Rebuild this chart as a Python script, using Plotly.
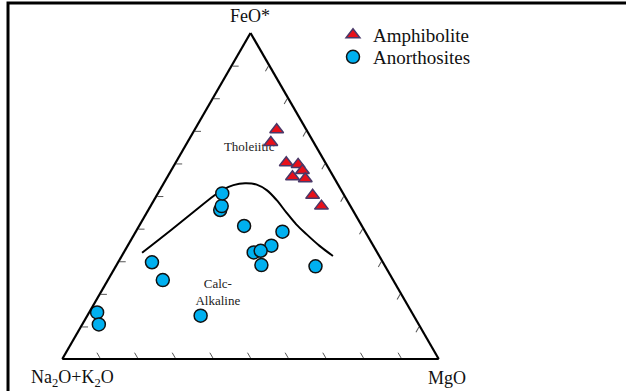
import plotly.graph_objects as go

# AFM ternary diagram: A = Na2O+K2O, F = FeO*, M = MgO (fractions of 1)
amph_feo = [0.703, 0.664, 0.602, 0.597, 0.578, 0.559, 0.553, 0.502, 0.469]
amph_alk = [0.079, 0.114, 0.104, 0.075, 0.073, 0.109, 0.078, 0.084, 0.077]
amph_mgo = [0.218, 0.222, 0.294, 0.328, 0.349, 0.332, 0.369, 0.414, 0.454]

anor_feo = [0.457, 0.469, 0.508, 0.408, 0.391, 0.348, 0.327, 0.332, 0.288,
            0.284, 0.297, 0.242, 0.133, 0.143, 0.106]
anor_alk = [0.352, 0.342, 0.321, 0.313, 0.220, 0.271, 0.328, 0.307, 0.327,
            0.185, 0.614, 0.612, 0.566, 0.836, 0.849]
anor_mgo = [0.191, 0.189, 0.171, 0.279, 0.390, 0.382, 0.345, 0.361, 0.385,
            0.530, 0.090, 0.146, 0.301, 0.021, 0.044]

# Tholeiitic / calc-alkaline boundary (Irvine & Baragar type curve)
div_feo = [0.326, 0.394, 0.451, 0.500, 0.521, 0.534, 0.539, 0.535, 0.518,
           0.488, 0.449, 0.413, 0.383, 0.347, 0.316]
div_alk = [0.625, 0.517, 0.426, 0.348, 0.312, 0.279, 0.245, 0.216, 0.198,
           0.187, 0.180, 0.172, 0.160, 0.143, 0.123]
div_mgo = [0.049, 0.090, 0.123, 0.152, 0.168, 0.188, 0.216, 0.249, 0.284,
           0.325, 0.371, 0.415, 0.457, 0.510, 0.561]

field_names = ["Tholeiitic", "Calc-<br>Alkaline"]
field_feo = [0.647, 0.203]
field_alk = [0.180, 0.486]
field_mgo = [0.173, 0.312]

SERIF = "Liberation Serif"

fig = go.Figure()

fig.add_trace(go.Scatterternary(
    a=div_feo, b=div_alk, c=div_mgo, mode="lines",
    line=dict(color="black", width=2, shape="spline", smoothing=1.0),
    showlegend=False, hoverinfo="skip"))

fig.add_trace(go.Scatterternary(
    a=field_feo, b=field_alk, c=field_mgo, mode="text",
    text=field_names, textfont=dict(family=SERIF, size=13, color="#222"),
    showlegend=False, hoverinfo="skip"))

fig.add_trace(go.Scatterternary(
    a=amph_feo, b=amph_alk, c=amph_mgo, mode="markers", name="Amphibolite",
    legend="legend",
    marker=dict(symbol="triangle-up", size=12, color="#E8101A",
                line=dict(color="#4A3868", width=1.5))))

fig.add_trace(go.Scatterternary(
    a=anor_feo, b=anor_alk, c=anor_mgo, mode="markers", name="Anorthosites",
    legend="legend2",
    marker=dict(symbol="circle", size=13, color="#00B0F0",
                line=dict(color="#111", width=1.5))))

axis_common = dict(
    min=0, showgrid=False, showticklabels=False,
    ticks="inside", ticklen=6, tickwidth=1, tickcolor="#555",
    dtick=0.1, linecolor="black", linewidth=2.2,
)

title_font = dict(family=SERIF, size=18, color="#111")
legend_common = dict(
    xanchor="left", yanchor="middle",
    font=dict(family=SERIF, size=19, color="#111"),
    bgcolor="rgba(0,0,0,0)", itemwidth=30,
)

fig.update_layout(
    width=626, height=391,
    margin=dict(l=0, r=0, t=0, b=0),
    paper_bgcolor="white",
    font=dict(family=SERIF, color="#111"),
    ternary=dict(
        sum=1,
        bgcolor="white",
        domain=dict(x=[60 / 626, 441 / 626], y=[32 / 391, 358 / 391]),
        aaxis=dict(title=dict(text=""), **axis_common),
        baxis=dict(title=dict(text=""), **axis_common),
        caxis=dict(title=dict(text=""), **axis_common),
    ),
    annotations=[
        dict(text="FeO*", xref="paper", yref="paper",
             x=250 / 626, y=1 - 16 / 391, xanchor="center", yanchor="middle",
             showarrow=False, font=title_font),
        dict(text="Na<sub>2</sub>O+K<sub>2</sub>O", xref="paper", yref="paper",
             x=72 / 626, y=1 - 378 / 391, xanchor="center", yanchor="middle",
             showarrow=False, font=title_font),
        dict(text="MgO", xref="paper", yref="paper",
             x=447 / 626, y=1 - 378 / 391, xanchor="center", yanchor="middle",
             showarrow=False, font=title_font),
    ],
    legend=dict(x=333 / 626, y=1 - 35 / 391, **legend_common),
    legend2=dict(x=333 / 626, y=1 - 57 / 391, **legend_common),
    shapes=[dict(type="path", xref="paper", yref="paper",
                 path="M 0.0128,0 L 0.0128,0.9923 L 1.01,0.9923",
                 line=dict(color="black", width=3))],
)

fig.write_html("out.html")
